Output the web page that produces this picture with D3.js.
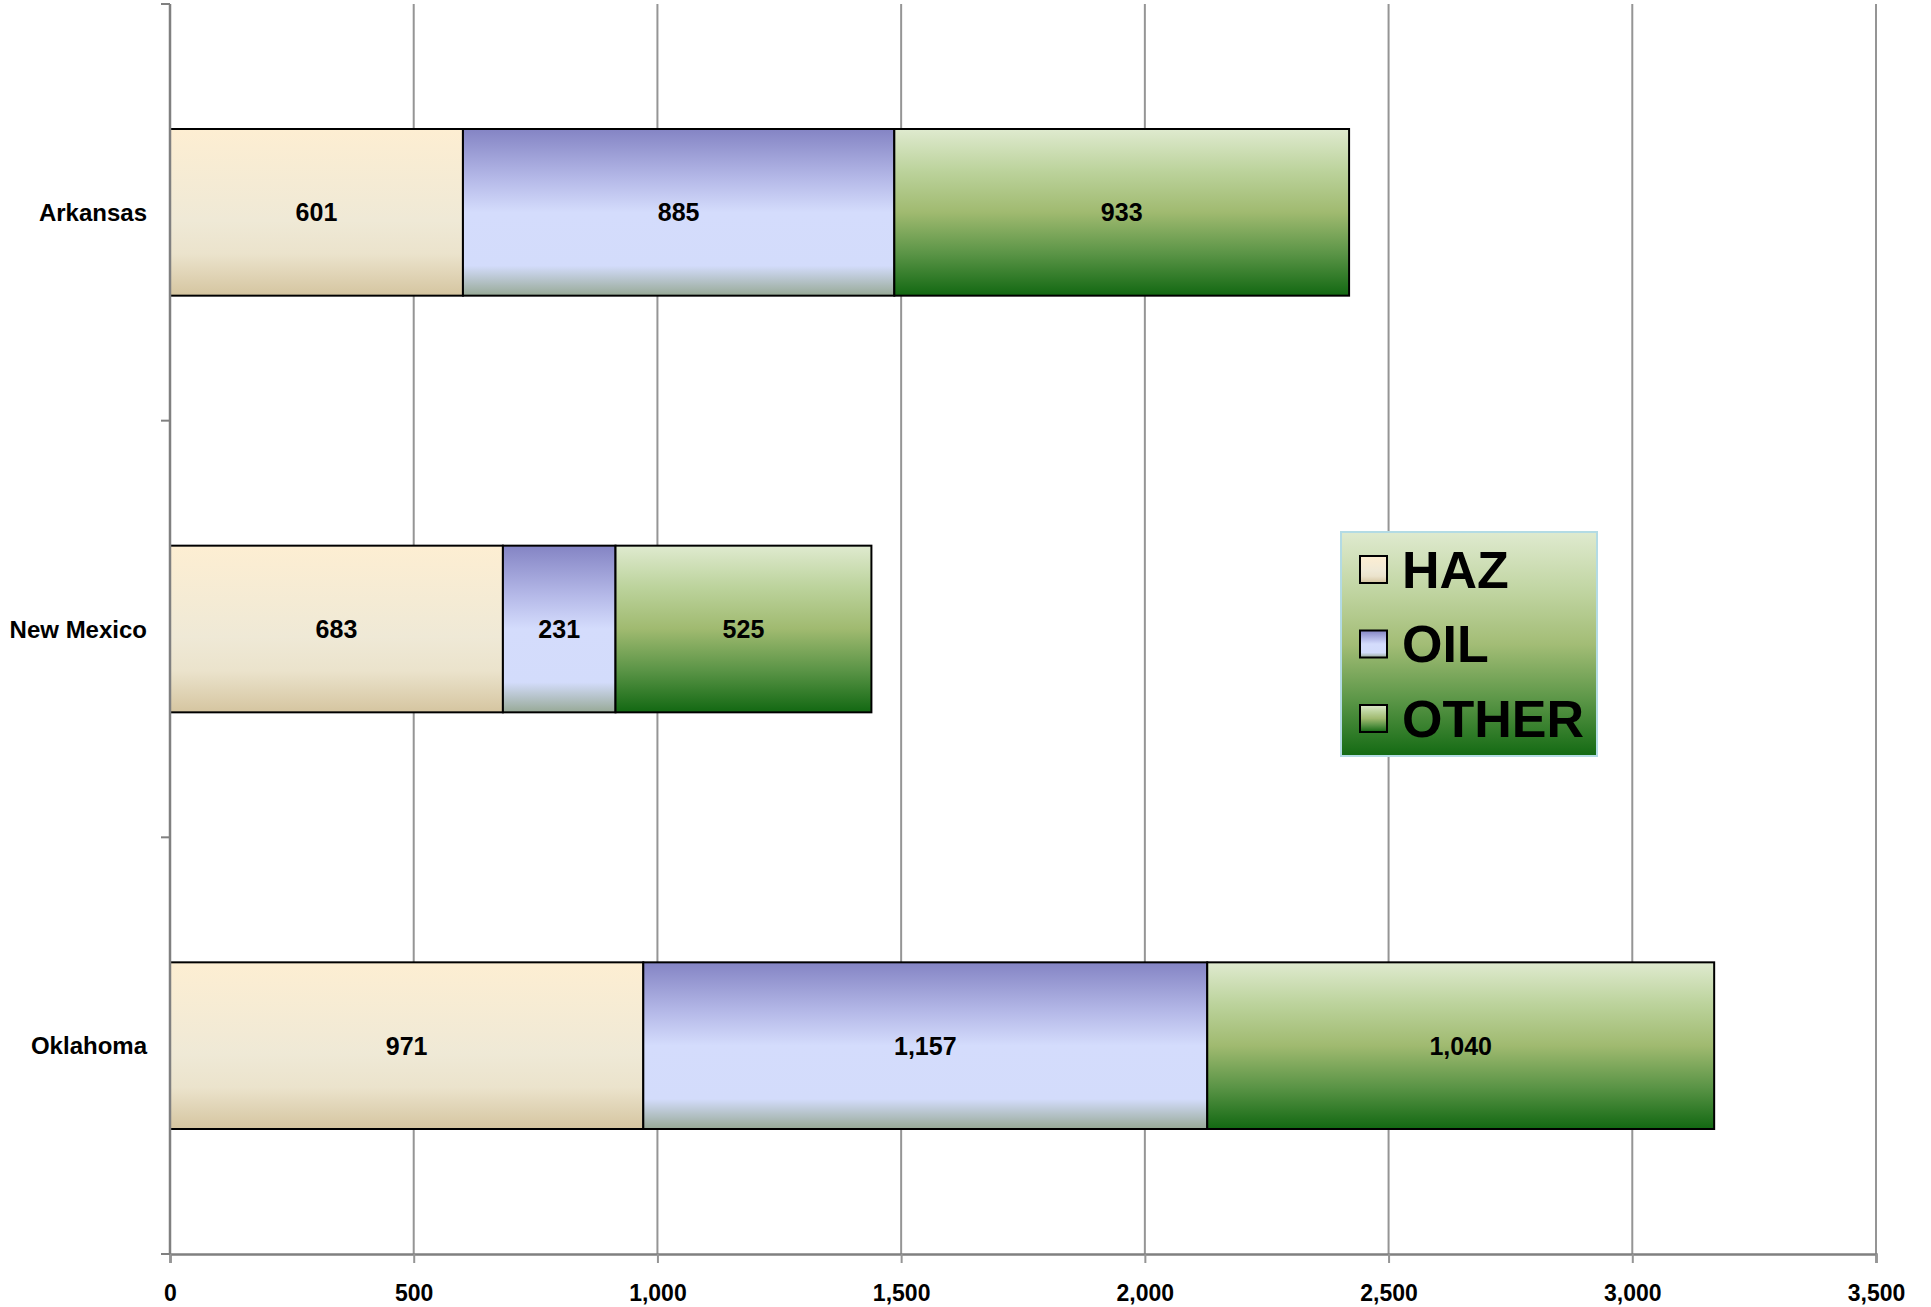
<!DOCTYPE html>
<html>
<head>
<meta charset="utf-8">
<script src="https://cdn.jsdelivr.net/npm/d3@7"></script>
<style>
  html, body { margin: 0; padding: 0; background: #fff; }
  svg { display: block; }
  text { font-family: "Liberation Sans", Arial, sans-serif; font-weight: bold; fill: #000; }
</style>
</head>
<body>
<svg id="chart" width="1931" height="1307"></svg>
<script>
const categories = ["Arkansas", "New Mexico", "Oklahoma"];
const seriesNames = ["HAZ", "OIL", "OTHER"];
const hazValues = [601, 683, 971];
const oilValues = [885, 231, 1157];
const otherValues = [933, 525, 1040];
const xTicks = [0, 500, 1000, 1500, 2000, 2500, 3000, 3500];

const seriesValues = { HAZ: hazValues, OIL: oilValues, OTHER: otherValues };
const rows = categories.map((c, i) => {
  const r = { category: c };
  seriesNames.forEach(s => r[s] = seriesValues[s][i]);
  return r;
});
const stacked = d3.stack().keys(seriesNames)(rows);

const svg = d3.select("#chart");
const pLeft = 170, pRight = 1876, pTop = 4, pBottom = 1254;

const x = d3.scaleLinear().domain([0, 3500]).range([pLeft, pRight]);
const y = d3.scaleBand().domain(categories).range([pTop, pBottom]).paddingInner(0.6).paddingOuter(0.3);

// gradients
const defs = svg.append("defs");
const gradStops = {
  HAZ: [[0, "#fdeed2"], [0.55, "#efe9d6"], [0.75, "#ebe3cc"], [1, "#d5c5a0"]],
  OIL: [[0, "#8484c4"], [0.3, "#b5b9e8"], [0.5, "#d4dcfc"], [0.82, "#d3dcfb"], [1, "#97a996"]],
  OTHER: [[0, "#dfeacf"], [0.25, "#bcd39c"], [0.5, "#a0ba70"], [0.75, "#5a9446"], [1, "#126812"]]
};
seriesNames.forEach(s => {
  const g = defs.append("linearGradient").attr("id", "grad-" + s)
    .attr("x1", 0).attr("y1", 0).attr("x2", 0).attr("y2", 1);
  gradStops[s].forEach(([o, c]) => g.append("stop").attr("offset", o).attr("stop-color", c));
});
const lg = defs.append("linearGradient").attr("id", "grad-legend")
  .attr("x1", 0).attr("y1", 0).attr("x2", 0).attr("y2", 1);
[[0, "#dfeacf"], [0.25, "#c2d6a4"], [0.5, "#a3bd76"], [0.75, "#5b9647"], [1, "#136a13"]]
  .forEach(([o, c]) => lg.append("stop").attr("offset", o).attr("stop-color", c));

// gridlines
svg.append("g").selectAll("line").data(xTicks.slice(1)).join("line")
  .attr("x1", d => x(d)).attr("x2", d => x(d))
  .attr("y1", pTop).attr("y2", pBottom)
  .attr("stroke", "#959595").attr("stroke-width", 2);

// bars
const barG = svg.append("g");
stacked.forEach(layer => {
  barG.append("g").selectAll("rect").data(layer).join("rect")
    .attr("x", d => x(d[0]))
    .attr("y", d => y(d.data.category))
    .attr("width", d => x(d[1]) - x(d[0]))
    .attr("height", y.bandwidth())
    .attr("fill", "url(#grad-" + layer.key + ")")
    .attr("stroke", "#000").attr("stroke-width", 2);
});
stacked.forEach(layer => {
  barG.append("g").selectAll("text").data(layer).join("text")
    .attr("x", d => (x(d[0]) + x(d[1])) / 2)
    .attr("y", d => y(d.data.category) + y.bandwidth() / 2)
    .attr("text-anchor", "middle").attr("dominant-baseline", "central")
    .attr("font-size", 25)
    .text(d => d3.format(",")(d[1] - d[0]));
});

// x axis
const xAxis = svg.append("g").attr("transform", `translate(0,${pBottom})`)
  .call(d3.axisBottom(x).tickValues(xTicks).tickFormat(d3.format(",")).tickSize(9).tickPadding(22));
xAxis.select(".domain").attr("stroke", "#808080").attr("stroke-width", 2.5);
xAxis.selectAll(".tick line").attr("stroke", "#959595").attr("stroke-width", 2);
xAxis.selectAll(".tick text").attr("font-size", 23).attr("font-family", "'Liberation Sans', Arial, sans-serif").attr("font-weight", "bold").attr("fill", "#000");

// y axis
const yAxisG = svg.append("g");
yAxisG.append("line").attr("x1", pLeft).attr("x2", pLeft).attr("y1", pTop).attr("y2", pBottom)
  .attr("stroke", "#808080").attr("stroke-width", 2.5);
const tickYs = d3.range(categories.length + 1).map(i => pTop + i * y.step());
yAxisG.selectAll("line.t").data(tickYs).join("line").attr("class", "t")
  .attr("x1", pLeft - 9).attr("x2", pLeft).attr("y1", d => d).attr("y2", d => d)
  .attr("stroke", "#808080").attr("stroke-width", 2);
yAxisG.selectAll("text").data(categories).join("text")
  .attr("x", 147).attr("y", d => y(d) + y.bandwidth() / 2)
  .attr("text-anchor", "end").attr("dominant-baseline", "central")
  .attr("font-size", 24).text(d => d);

// legend
const legend = svg.append("g").attr("transform", "translate(1341,532)");
legend.append("rect").attr("width", 256).attr("height", 224)
  .attr("fill", "url(#grad-legend)").attr("stroke", "#b3dbe4").attr("stroke-width", 2);
const li = legend.selectAll("g").data(seriesNames).join("g")
  .attr("transform", (d, i) => `translate(19,${24 + i * 74.5})`);
li.append("rect").attr("width", 27).attr("height", 27)
  .attr("fill", d => "url(#grad-" + d + ")").attr("stroke", "#000").attr("stroke-width", 2);
li.append("text").attr("x", 42).attr("y", 13.5).attr("dominant-baseline", "central")
  .attr("font-size", 52).text(d => d);
</script>
</body>
</html>
